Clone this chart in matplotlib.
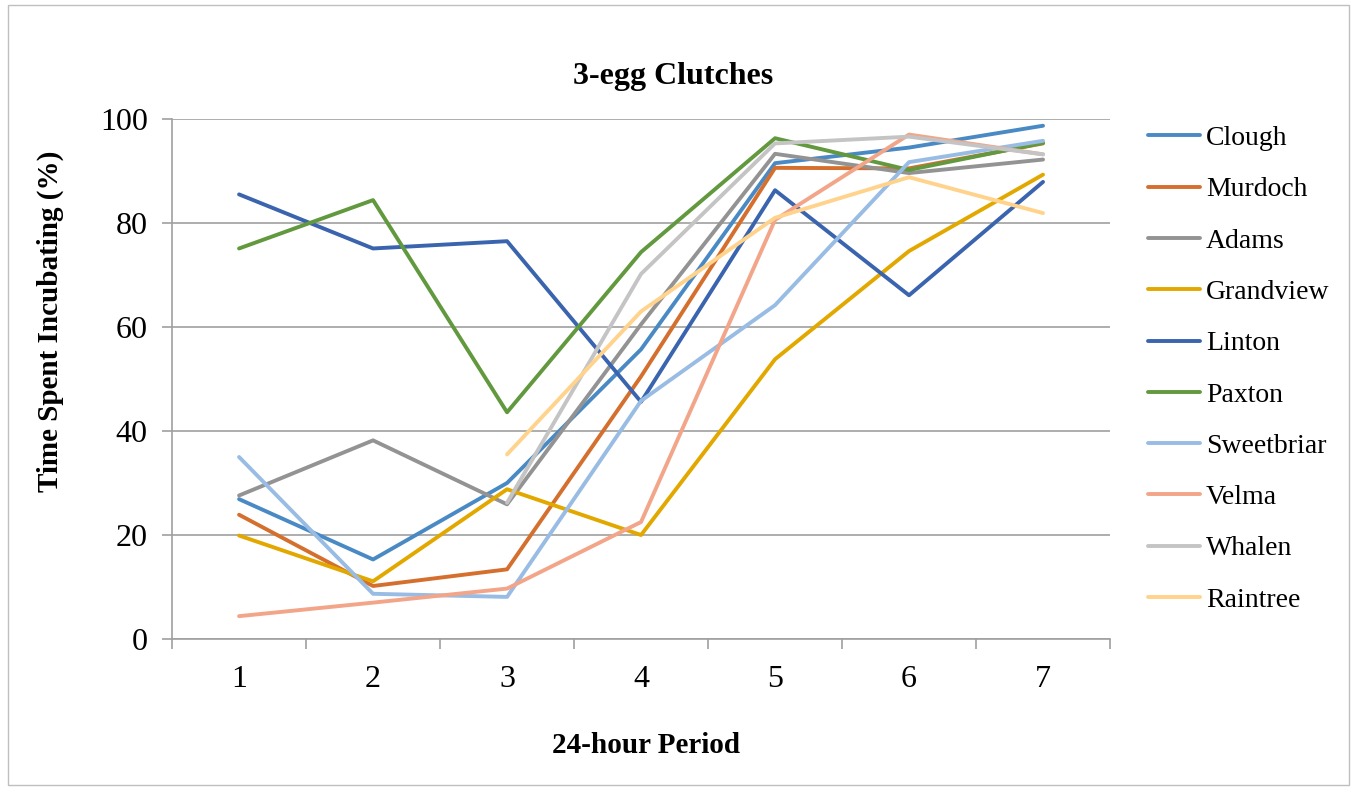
import matplotlib
matplotlib.use('Agg')
import matplotlib.pyplot as plt
from matplotlib.patches import Rectangle

# data
periods = [1, 2, 3, 4, 5, 6, 7]
sites = ['Clough', 'Murdoch', 'Adams', 'Grandview', 'Linton',
         'Paxton', 'Sweetbriar', 'Velma', 'Whalen', 'Raintree']

clough = [26.9, 15.3, 30.0, 55.7, 91.5, 94.5, 98.7]
murdoch = [23.9, 10.2, 13.4, 50.5, 90.6, 90.5, 95.3]
adams = [27.6, 38.2, 25.9, 60.5, 93.3, 89.6, 92.2]
grandview = [19.9, 11.1, 28.8, 20.0, 53.8, 74.6, 89.3]
linton = [85.5, 75.1, 76.5, 45.6, 86.3, 66.1, 87.9]
paxton = [75.1, 84.4, 43.6, 74.4, 96.3, 90.2, 95.4]
sweetbriar = [35.0, 8.7, 8.1, 45.8, 64.2, 91.7, 95.8]
velma = [4.4, 7.0, 9.7, 22.5, 80.6, 97.0, 93.2]
whalen = [None, None, 26.2, 70.2, 95.3, 96.6, 93.2]
raintree = [None, None, 35.5, 63.0, 81.0, 88.8, 81.9]

series = [clough, murdoch, adams, grandview, linton,
          paxton, sweetbriar, velma, whalen, raintree]
colors = ['#4A8AC4', '#D46F2E', '#939393', '#E2A800', '#3A64AE',
          '#62993E', '#98BCE3', '#F2A588', '#C4C4C4', '#FFD38C']

plt.rcParams['font.family'] = ['Liberation Serif', 'DejaVu Serif']

fig = plt.figure(figsize=(13.57, 7.9), dpi=100)
ax = fig.add_axes([0.1268, 0.1911, 0.6912, 0.6583])

# outer chart border
fig.patches.append(Rectangle((0.006, 0.006), 0.988, 0.988, transform=fig.transFigure,
                             fill=False, edgecolor='#BFBFBF', linewidth=1))

for name, vals, col in zip(sites, series, colors):
    pts = [(p, v) for p, v in zip(periods, vals) if v is not None]
    ax.plot([p for p, _ in pts], [v for _, v in pts], color=col,
            linewidth=2.8, label=name, solid_capstyle='round')

ax.set_xlim(0.5, 7.5)
ax.set_ylim(0, 100)
ax.set_yticks([0, 20, 40, 60, 80, 100])
ax.set_xticks(periods)
ax.set_xticks([0.5 + i for i in range(8)], minor=True)
ax.tick_params(axis='x', which='major', length=0, labelsize=23, pad=19)
ax.tick_params(axis='x', which='minor', length=7, color='#A0A0A0', width=1.2)
ax.tick_params(axis='y', length=7, color='#A0A0A0', width=1.2, labelsize=23, pad=10.5)
ax.grid(axis='y', color='#A0A0A0', linewidth=1.2)
ax.set_axisbelow(True)
for s in ['top', 'right']:
    ax.spines[s].set_visible(False)
for s in ['bottom', 'left']:
    ax.spines[s].set_color('#A0A0A0')
    ax.spines[s].set_linewidth(1.2)

ax.set_title('3-egg Clutches', fontsize=23, fontweight='bold', pad=25, x=0.534)
ax.set_xlabel('24-hour Period', fontsize=21, fontweight='bold', labelpad=27, x=0.505)
ax.set_ylabel('Time Spent Incubating (%)', fontsize=21, fontweight='bold', labelpad=26, y=0.61)

leg = ax.legend(loc='upper left', bbox_to_anchor=(1.0135, 1.035), frameon=False,
                fontsize=20, handlelength=1.9, labelspacing=0.93, handletextpad=0.2)

fig.savefig('out.png', dpi=100)
